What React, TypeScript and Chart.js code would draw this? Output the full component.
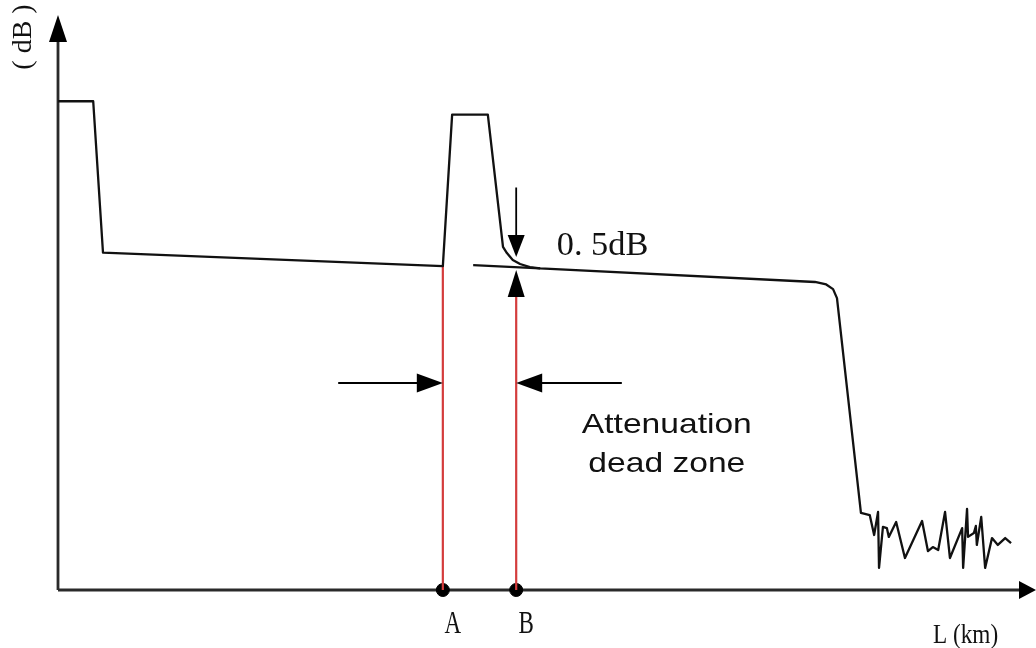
import React, { useEffect, useRef } from "react";
import { Chart, registerables } from "chart.js";

Chart.register(...registerables);

// OTDR trace: distance along the fibre (km) vs. backscattered power (dB)
const X_MAX = 20;
const Y_MAX = 30;

const traceKm = [
  0, 0.72, 0.92, 7.87, 8.06, 8.79, 9.1, 9.18, 9.3, 9.45, 9.65, 9.86, 15.48, 15.71, 15.85, 15.93, 16.42,
  16.6, 16.69, 16.77, 16.79, 16.87, 16.95, 16.99, 17.14, 17.32, 17.67, 17.79, 17.89, 18.0, 18.14, 18.24,
  18.49, 18.51, 18.59, 18.61, 18.73, 18.77, 18.79, 18.88, 18.96, 19.1, 19.22, 19.37, 19.49,
];
const traceDb = [
  25.5, 25.5, 17.6, 16.9, 24.8, 24.8, 17.9, 17.58, 17.22, 17.01, 16.85, 16.78, 16.07, 15.94, 15.7, 15.23, 4.02,
  3.91, 2.87, 4.07, 1.15, 3.29, 3.23, 2.77, 3.55, 1.67, 3.6, 2.03, 2.24, 2.09, 4.07, 1.67,
  3.23, 1.15, 4.23, 2.77, 2.97, 3.34, 2.35, 3.81, 1.15, 2.71, 2.35, 2.71, 2.45,
];

// extrapolated backscatter level after the reflective event
const refKm = [8.49, 9.86];
const refDb = [16.95, 16.78];

// dead-zone limits A and B
const eventLabels = ["A", "B"];
const eventKm = [7.87, 9.37];
const eventTopDb = [16.9, 15.3];

// 0.5 dB criterion arrows at B
const deltaDownDb = [21.0, 17.37];
const deltaUpTipDb = 16.7;
const deltaLabel = "0. 5dB";
const deltaLabelPos = [10.2, 17.48];

// dead-zone width arrows
const gapArrowDb = 10.8;
const gapArrowFromKm = [5.73, 11.53];
const zoneLabel = ["Attenuation", "dead zone"];
const zoneLabelKm = 12.45;
const zoneLabelDb = [8.19, 6.16];

const xAxisLabel = "L (km)";
const yAxisLabel = "( dB )";

const SERIF = "'Liberation Serif', 'DejaVu Serif', serif";
const SANS = "'Liberation Sans', Arial, sans-serif";

function arrowHead(ctx: CanvasRenderingContext2D, tx: number, ty: number, dx: number, dy: number, len: number, half: number) {
  const bx = tx - dx * len;
  const by = ty - dy * len;
  ctx.beginPath();
  ctx.moveTo(tx, ty);
  ctx.lineTo(bx - dy * half, by + dx * half);
  ctx.lineTo(bx + dy * half, by - dx * half);
  ctx.closePath();
  ctx.fill();
}

function stretchedText(ctx: CanvasRenderingContext2D, text: string, x: number, y: number, sx: number, align: CanvasTextAlign) {
  ctx.save();
  ctx.translate(x, y);
  ctx.scale(sx, 1);
  ctx.textAlign = align;
  ctx.textBaseline = "alphabetic";
  ctx.fillText(text, 0, 0);
  ctx.restore();
}

const overlay = {
  id: "otdrOverlay",
  beforeDatasetsDraw(chart: any) {
    const { ctx, chartArea: a } = chart;
    ctx.save();
    ctx.strokeStyle = "#2a2a2a";
    ctx.fillStyle = "#000";
    ctx.lineWidth = 2.8;
    ctx.beginPath();
    ctx.moveTo(a.left, a.bottom);
    ctx.lineTo(a.left, a.top + 20);
    ctx.stroke();
    ctx.beginPath();
    ctx.moveTo(a.left, a.bottom);
    ctx.lineTo(a.right - 12, a.bottom);
    ctx.stroke();
    arrowHead(ctx, a.left, a.top, 0, -1, 27, 9);
    arrowHead(ctx, a.right, a.bottom, 1, 0, 17, 9);

    ctx.fillStyle = "#111";
    ctx.font = `28px ${SERIF}`;
    ctx.save();
    ctx.translate(a.left - 34, a.top + 22);
    ctx.rotate(-Math.PI / 2);
    ctx.textAlign = "center";
    ctx.textBaseline = "middle";
    ctx.fillText(yAxisLabel, 0, 0);
    ctx.restore();

    ctx.font = `28px ${SERIF}`;
    stretchedText(ctx, xAxisLabel, a.right - 103, a.bottom + 53, 0.83, "left");
    ctx.restore();
  },
  afterDatasetsDraw(chart: any) {
    const { ctx } = chart;
    const xs = chart.scales.x;
    const ys = chart.scales.y;
    const px = (v: number) => xs.getPixelForValue(v);
    const py = (v: number) => ys.getPixelForValue(v);
    ctx.save();
    ctx.fillStyle = "#000";
    ctx.strokeStyle = "#000";
    ctx.lineWidth = 1.8;

    // 0.5 dB arrows at B
    const bx = px(eventKm[1]);
    ctx.beginPath();
    ctx.moveTo(bx, py(deltaDownDb[0]));
    ctx.lineTo(bx, py(deltaDownDb[1]) - 20);
    ctx.stroke();
    arrowHead(ctx, bx, py(deltaDownDb[1]), 0, 1, 22, 8.5);
    arrowHead(ctx, bx, py(deltaUpTipDb), 0, -1, 27, 8.5);

    // dead-zone width arrows
    const ay = py(gapArrowDb);
    const ax = px(eventKm[0]);
    ctx.beginPath();
    ctx.moveTo(px(gapArrowFromKm[0]), ay);
    ctx.lineTo(ax - 20, ay);
    ctx.moveTo(px(gapArrowFromKm[1]), ay);
    ctx.lineTo(bx + 20, ay);
    ctx.stroke();
    arrowHead(ctx, ax, ay, 1, 0, 26, 9.5);
    arrowHead(ctx, bx, ay, -1, 0, 26, 9.5);

    // texts
    ctx.fillStyle = "#111";
    ctx.font = `33px ${SERIF}`;
    stretchedText(ctx, deltaLabel, px(deltaLabelPos[0]), py(deltaLabelPos[1]), 1.04, "left");

    ctx.font = `28px ${SANS}`;
    zoneLabel.forEach((t, i) => stretchedText(ctx, t, px(zoneLabelKm), py(zoneLabelDb[i]), 1.2, "center"));

    ctx.font = `32px ${SERIF}`;
    eventLabels.forEach((t, i) => stretchedText(ctx, t, px(eventKm[i]) + 10, py(0) + 43, 0.72, "center"));
    ctx.restore();
  },
};

export default function App() {
  const canvasRef = useRef<HTMLCanvasElement | null>(null);

  useEffect(() => {
    const canvas = canvasRef.current;
    if (!canvas) return;
    const red = "#d43c3c";
    const chart = new Chart(canvas, {
      type: "line",
      data: {
        datasets: [
          {
            data: traceKm.map((x, i) => ({ x, y: traceDb[i] })),
            borderColor: "#111",
            borderWidth: 2.3,
            borderJoinStyle: "round",
            pointRadius: 0,
          },
          {
            data: refKm.map((x, i) => ({ x, y: refDb[i] })),
            borderColor: "#111",
            borderWidth: 2.2,
            pointRadius: 0,
          },
          ...eventKm.map((x, i) => ({
            data: [
              { x, y: 0 },
              { x, y: eventTopDb[i] },
            ],
            borderColor: red,
            borderWidth: 2.2,
            pointRadius: 0,
          })),
          {
            data: eventKm.map((x) => ({ x, y: 0 })),
            showLine: false,
            pointRadius: 6.5,
            pointBackgroundColor: "#000",
            pointBorderColor: "#000",
            clip: false,
          } as any,
        ],
      },
      options: {
        animation: false,
        responsive: false,
        devicePixelRatio: 1,
        layout: { autoPadding: false, padding: { left: 58, right: 0, top: 15, bottom: 58 } },
        scales: {
          x: { type: "linear", min: 0, max: X_MAX, display: false },
          y: { type: "linear", min: 0, max: Y_MAX, display: false },
        },
        elements: { line: { tension: 0 } },
        plugins: { legend: { display: false }, tooltip: { enabled: false } },
      },
      plugins: [overlay],
    });
    return () => chart.destroy();
  }, []);

  return (
    <div style={{ position: "absolute", left: 0, top: 0, width: 1036, height: 648, background: "#fff" }}>
      <canvas ref={canvasRef} width={1036} height={648} style={{ width: 1036, height: 648, display: "block" }} />
    </div>
  );
}
